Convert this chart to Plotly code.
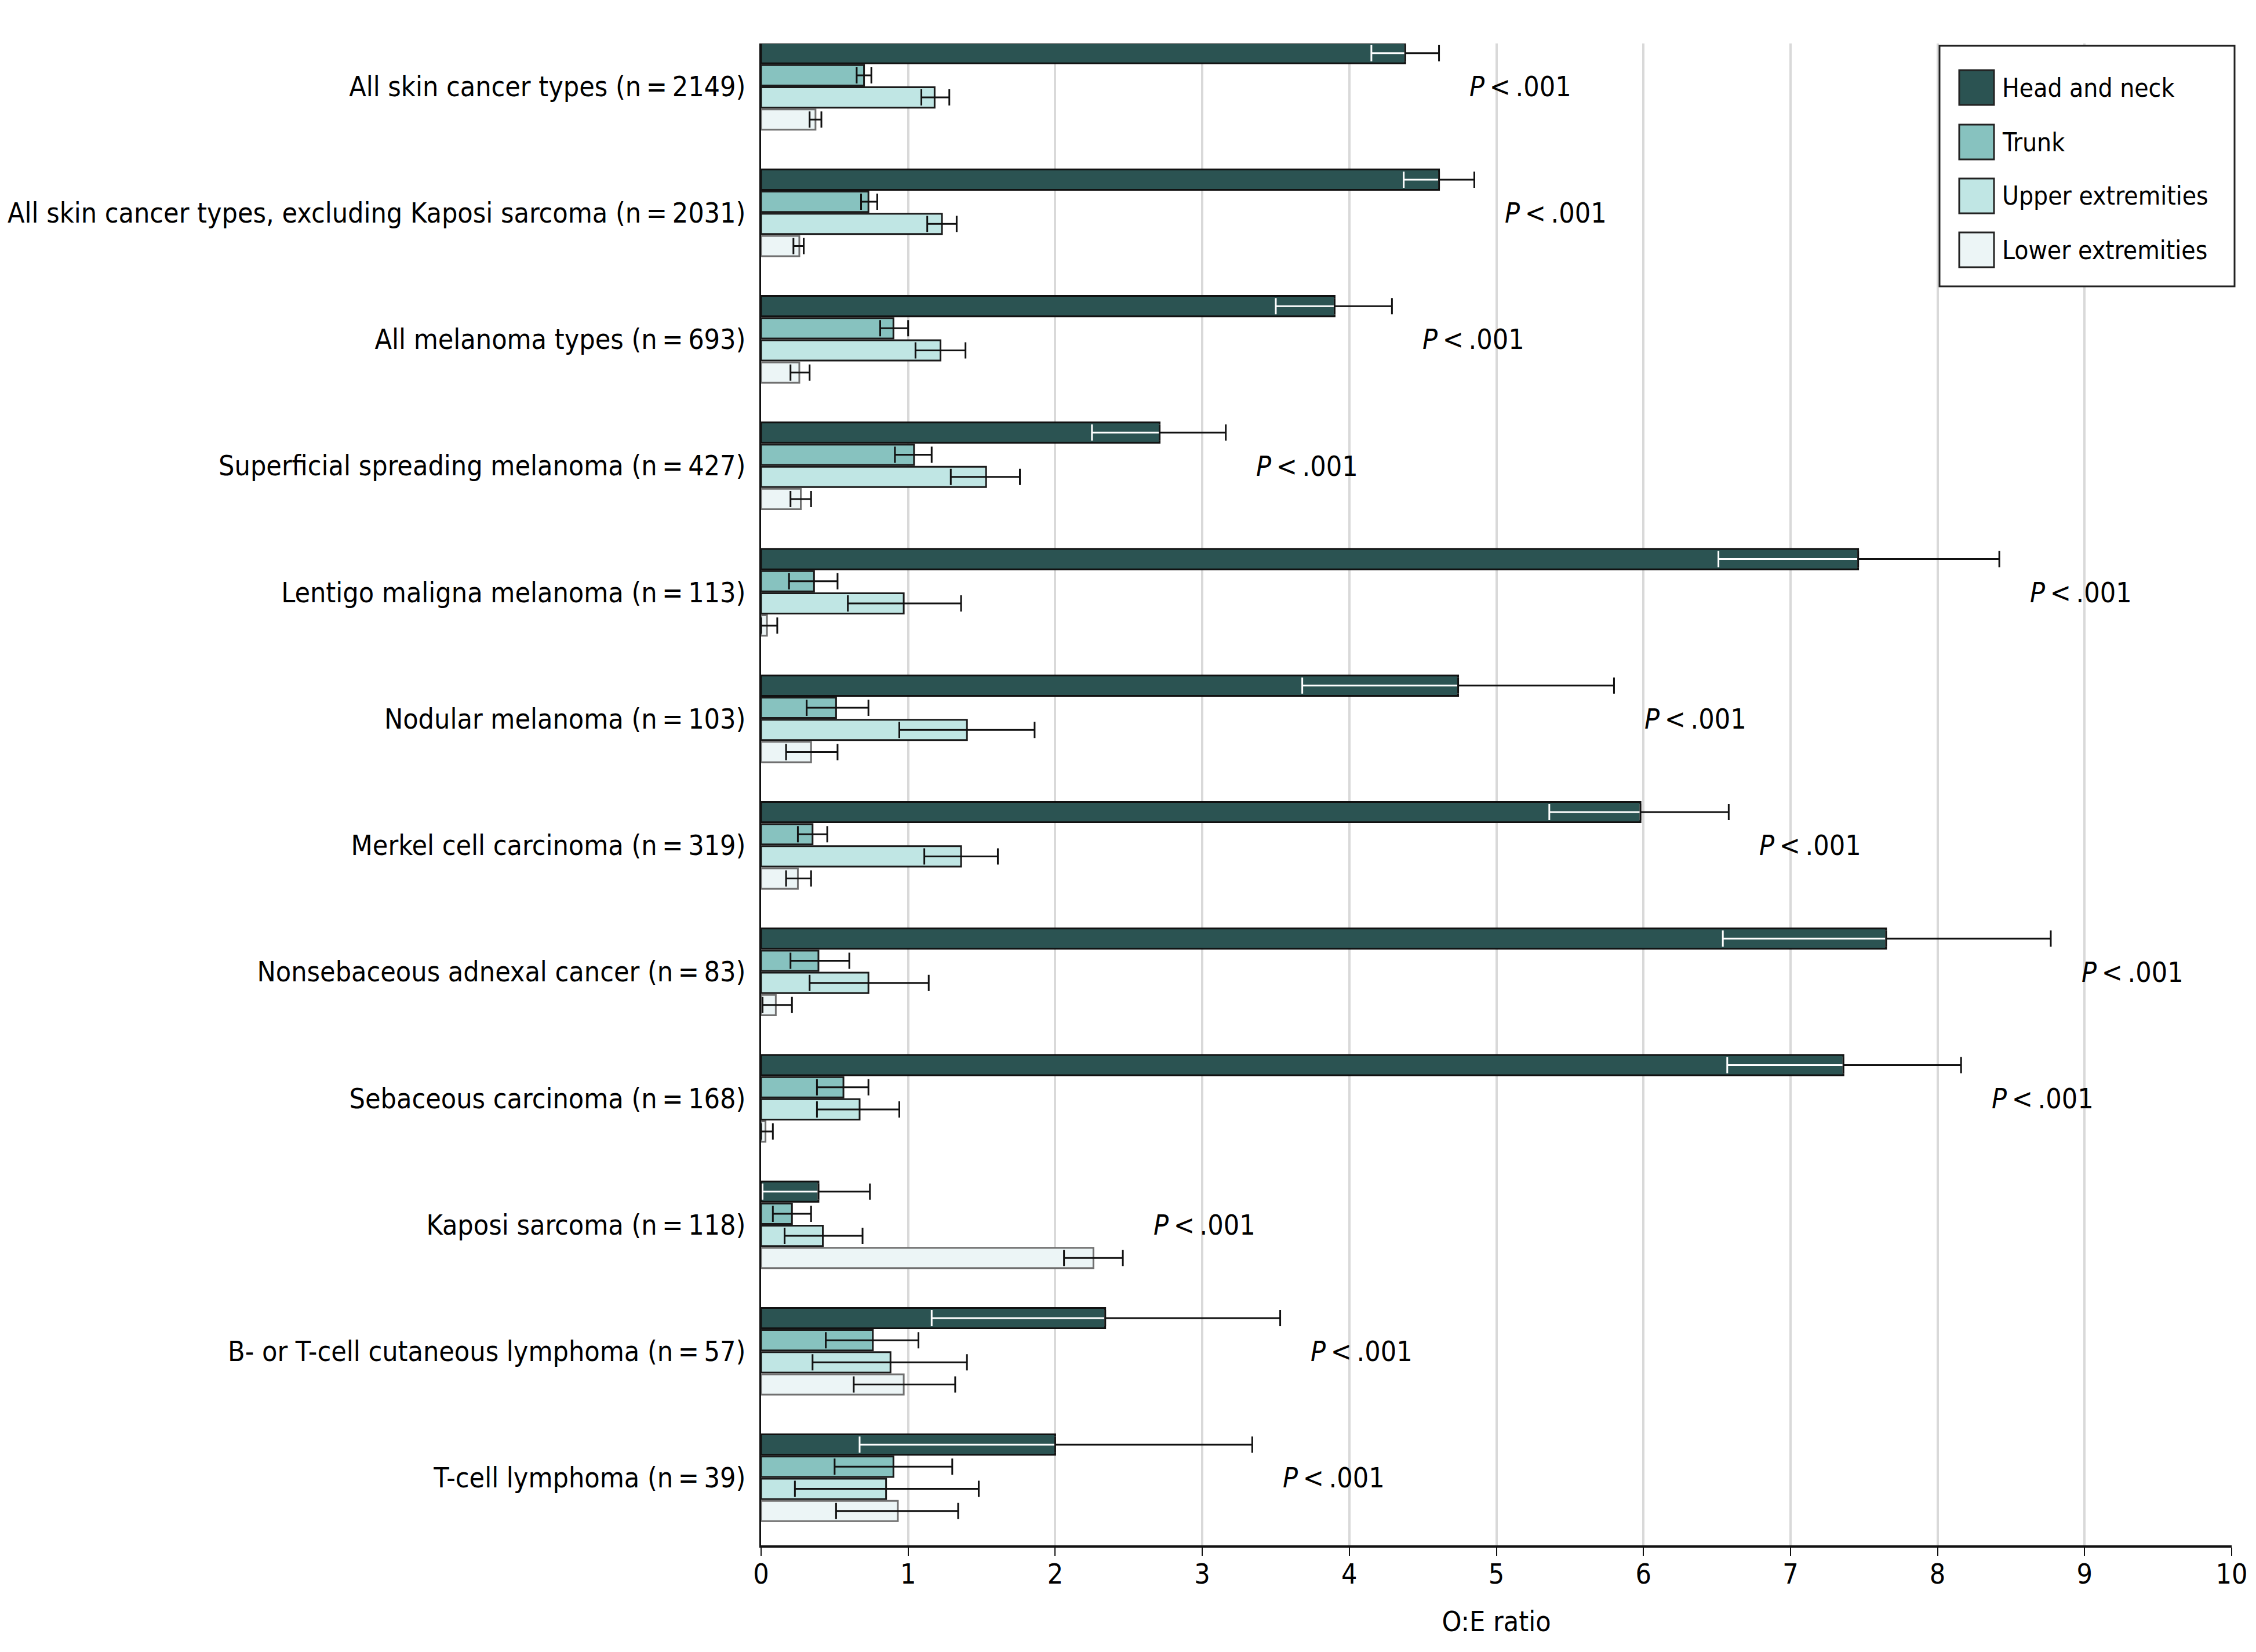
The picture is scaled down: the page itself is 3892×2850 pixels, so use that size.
import plotly.graph_objects as go

TS = "\u2009"  # thin space used in the original labels
categories = [
    f"All skin cancer types (n{TS}={TS}2149)",
    f"All skin cancer types, excluding Kaposi sarcoma (n{TS}={TS}2031)",
    f"All melanoma types (n{TS}={TS}693)",
    f"Superficial spreading melanoma (n{TS}={TS}427)",
    f"Lentigo maligna melanoma (n{TS}={TS}113)",
    f"Nodular melanoma (n{TS}={TS}103)",
    f"Merkel cell carcinoma (n{TS}={TS}319)",
    f"Nonsebaceous adnexal cancer (n{TS}={TS}83)",
    f"Sebaceous carcinoma (n{TS}={TS}168)",
    f"Kaposi sarcoma (n{TS}={TS}118)",
    f"B- or T-cell cutaneous lymphoma (n{TS}={TS}57)",
    f"T-cell lymphoma (n{TS}={TS}39)",
]
series_names = ["Head and neck", "Trunk", "Upper extremities", "Lower extremities"]

head_val = [4.38, 4.61, 3.90, 2.71, 7.46, 4.74, 5.98, 7.65, 7.36, 0.39, 2.34, 2.00]
head_lo  = [4.15, 4.37, 3.50, 2.25, 6.51, 3.68, 5.36, 6.54, 6.57, 0.01, 1.16, 0.67]
head_hi  = [4.61, 4.85, 4.29, 3.16, 8.42, 5.80, 6.58, 8.77, 8.16, 0.74, 3.53, 3.34]

trunk_val = [0.70, 0.73, 0.90, 1.04, 0.36, 0.51, 0.35, 0.39, 0.56, 0.21, 0.76, 0.90]
trunk_lo  = [0.65, 0.68, 0.81, 0.91, 0.19, 0.31, 0.25, 0.20, 0.38, 0.08, 0.44, 0.50]
trunk_hi  = [0.75, 0.79, 1.00, 1.16, 0.52, 0.73, 0.45, 0.60, 0.73, 0.34, 1.07, 1.30]

upper_val = [1.18, 1.23, 1.22, 1.53, 0.97, 1.40, 1.36, 0.73, 0.67, 0.42, 0.88, 0.85]
upper_lo  = [1.09, 1.13, 1.05, 1.29, 0.59, 0.94, 1.11, 0.33, 0.38, 0.16, 0.35, 0.23]
upper_hi  = [1.28, 1.33, 1.39, 1.76, 1.36, 1.86, 1.61, 1.14, 0.94, 0.69, 1.40, 1.48]

lower_val = [0.37, 0.26, 0.26, 0.27, 0.04, 0.34, 0.25, 0.10, 0.03, 2.26, 0.97, 0.93]
lower_lo  = [0.33, 0.22, 0.20, 0.20, 0.00, 0.17, 0.17, 0.01, 0.00, 2.06, 0.63, 0.51]
lower_hi  = [0.41, 0.29, 0.33, 0.34, 0.11, 0.52, 0.34, 0.21, 0.08, 2.46, 1.32, 1.34]

p_labels = [f"<i>P</i>{TS}<{TS}.001"] * 12
x_ticks = list(range(0, 11))

# ---------------- styling ----------------
FONT = "Liberation Sans Narrow, DejaVu Sans Condensed, Arial Narrow, sans-serif"
FS = 48
colors = ["#2b5352", "#87c2bf", "#c0e6e4", "#ecf5f6"]
outlines = ["#111111", "#1a1a1a", "#1a1a1a", "#707070"]
W, H = 3892, 2850
OFF = 8  # page body margin
X0, X1, Y0, Y1 = 1313, 3850, 75, 2666  # target plot area on screen
L, R, T, B = X0 - OFF, X1 - OFF, Y0 - OFF, Y1 - OFF

def px(x):
    return (x - X0) / (X1 - X0)

def py(y):
    return (Y1 - y) / (Y1 - Y0)

fig = go.Figure()

vals = [head_val, trunk_val, upper_val, lower_val]
los = [head_lo, trunk_lo, upper_lo, lower_lo]
his = [head_hi, trunk_hi, upper_hi, lower_hi]
groups = ["head", "trunk", "upper", "lower"]

for i in range(4):
    v, lo, hi = vals[i], los[i], his[i]
    err = None
    if i > 0:
        err = dict(type="data", symmetric=False,
                   array=[h - a for h, a in zip(hi, v)],
                   arrayminus=[a - l for a, l in zip(v, lo)],
                   color="#111111", thickness=3, width=14)
    fig.add_trace(go.Bar(
        y=categories, x=v, orientation="h", name=series_names[i],
        offsetgroup=groups[i],
        marker=dict(color=colors[i], line=dict(color=outlines[i], width=3)),
        error_x=err, showlegend=False, hoverinfo="skip"))
    if i == 0:
        # white part of the CI inside the dark bar
        fig.add_trace(go.Bar(
            y=categories, x=v, orientation="h", offsetgroup="head",
            marker=dict(color="rgba(0,0,0,0)", line=dict(width=0)),
            error_x=dict(type="data", symmetric=False,
                         array=[0] * len(v),
                         arrayminus=[a - l for a, l in zip(v, lo)],
                         color="white", thickness=3, width=14),
            showlegend=False, hoverinfo="skip"))
        # black part of the CI outside the dark bar
        fig.add_trace(go.Bar(
            y=categories, x=v, orientation="h", offsetgroup="head",
            marker=dict(color="rgba(0,0,0,0)", line=dict(width=0)),
            error_x=dict(type="data", symmetric=False,
                         array=[h - a for h, a in zip(hi, v)],
                         arrayminus=[0] * len(v),
                         color="#111111", thickness=3, width=14),
            showlegend=False, hoverinfo="skip"))

# P-value annotations to the right of each group
for k, cat in enumerate(categories):
    xmax = max(head_hi[k], trunk_hi[k], upper_hi[k], lower_hi[k])
    fig.add_annotation(x=xmax + 0.2, y=cat, xref="x", yref="y",
                       text=p_labels[k], showarrow=False, xanchor="left",
                       yanchor="middle",
                       font=dict(family=FONT, size=FS, color="black"))

# custom legend
fig.add_shape(type="rect", xref="paper", yref="paper",
              x0=px(3346), x1=px(3855), y0=py(494), y1=py(79),
              line=dict(color="#222222", width=3), fillcolor="white", layer="above")
row_y = [151, 245, 338, 431]
for i in range(4):
    fig.add_shape(type="rect", xref="paper", yref="paper",
                  x0=px(3380), x1=px(3440), y0=py(row_y[i] + 30), y1=py(row_y[i] - 30),
                  line=dict(color="#222222", width=3), fillcolor=colors[i], layer="above")
    fig.add_annotation(x=px(3452), y=py(row_y[i]), xref="paper", yref="paper",
                       text=series_names[i], showarrow=False, xanchor="left",
                       yanchor="middle",
                       font=dict(family=FONT, size=44, color="black"))

fig.update_layout(
    width=W, height=H,
    margin=dict(l=L, r=W - R, t=T, b=H - B, pad=0, autoexpand=False),
    paper_bgcolor="white", plot_bgcolor="white",
    barmode="group", bargap=0.3, bargroupgap=0.08,
    font=dict(family=FONT, size=FS, color="black"),
    showlegend=False,
)
fig.update_xaxes(
    range=[0, 10], tickvals=x_ticks, ticktext=[str(t) for t in x_ticks],
    showgrid=True, gridcolor="#d9d9d9", gridwidth=4,
    showline=True, linecolor="#111111", linewidth=4,
    ticks="outside", ticklen=14, tickwidth=2, tickcolor="#111111",
    ticklabelstandoff=-10,
    tickfont=dict(family=FONT, size=FS, color="black"),
    title=dict(text="O:E ratio", standoff=40,
               font=dict(family=FONT, size=FS, color="black")),
    zeroline=False, automargin=False,
)
fig.update_yaxes(
    type="category", categoryorder="array", categoryarray=categories,
    range=[11.534, -0.339],
    showgrid=False, showline=True, linecolor="#111111", linewidth=3,
    ticks="", ticklabelstandoff=14, automargin=False,
    tickfont=dict(family=FONT, size=FS, color="black"),
)

fig.write_html("out.html")
